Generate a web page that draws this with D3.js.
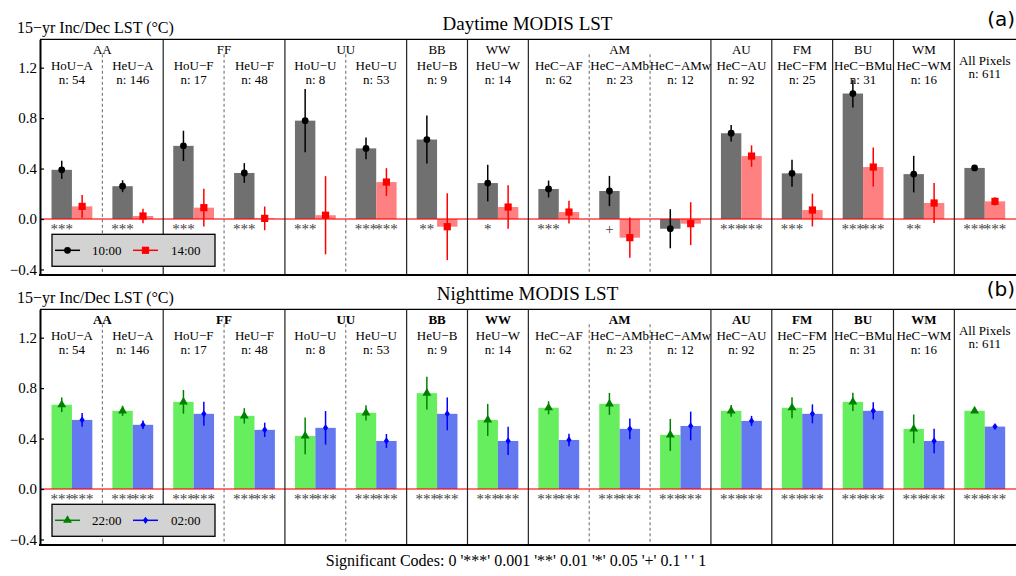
<!DOCTYPE html>
<html><head><meta charset="utf-8">
<script src="https://cdn.jsdelivr.net/npm/d3@7"></script>
<style>body{margin:0;background:#fff}svg{display:block}</style>
</head><body>
<script>
// ---- data ----
const categories = ["HoU\u2212A","HeU\u2212A","HoU\u2212F","HeU\u2212F","HoU\u2212U","HeU\u2212U","HeU\u2212B","HeU\u2212W","HeC\u2212AF","HeC\u2212AMb","HeC\u2212AMw","HeC\u2212AU","HeC\u2212FM","HeC\u2212BMu","HeC\u2212WM","All Pixels"];
const counts = [54,146,17,48,8,53,9,14,62,23,12,92,25,31,16,611];
const groupNames = ["AA","FF","UU","BB","WW","AM","AU","FM","BU","WM",""];
const groupSizes = [2,2,2,1,1,3,1,1,1,1,1];

const day10 = [0.39,0.26,0.58,0.365,0.78,0.56,0.63,0.285,0.238,0.222,-0.077,0.68,0.362,0.995,0.356,0.405];
const day10Err = [0.072,0.047,0.12,0.078,0.25,0.087,0.19,0.145,0.067,0.12,0.155,0.065,0.107,0.11,0.145,0.018];
const day14 = [0.10,0.024,0.09,0.005,0.03,0.293,-0.061,0.095,0.055,-0.148,-0.037,0.499,0.071,0.412,0.127,0.14];
const day14Err = [0.09,0.058,0.15,0.094,0.31,0.11,0.265,0.173,0.09,0.16,0.17,0.085,0.13,0.155,0.158,0.033];

const night22 = [0.668,0.62,0.691,0.58,0.421,0.604,0.76,0.548,0.644,0.675,0.429,0.62,0.644,0.691,0.477,0.62];
const night22Err = [0.058,0.04,0.094,0.061,0.146,0.06,0.13,0.127,0.052,0.087,0.127,0.047,0.083,0.073,0.114,0.01];
const night02 = [0.548,0.509,0.596,0.469,0.485,0.381,0.596,0.381,0.389,0.477,0.5,0.54,0.596,0.62,0.381,0.495];
const night02Err = [0.054,0.034,0.095,0.057,0.133,0.055,0.13,0.112,0.05,0.083,0.114,0.04,0.075,0.068,0.097,0.01];

const sig10 = ["***","***","***","***","***","***","**","*","***","+","","***","***","***","**","***"];
const sig14 = ["","","","","","***","","","","","","***","","***","","***"];
const sig22 = ["***","***","***","***","***","***","***","***","***","***","***","***","***","***","***","***"];
const sig02 = ["***","***","***","***","***","***","***","***","***","***","***","***","***","***","***","***"];

const yTicks = [-0.4,0.0,0.4,0.8,1.2];
const seriesLabelsDay = ["10:00","14:00"];
const seriesLabelsNight = ["22:00","02:00"];

// ---- layout ----
const W = 1016, H = 576;
const SERIF = "'Liberation Serif','Times New Roman',serif";
const svg = d3.select("body").append("svg").attr("width",W).attr("height",H);

const x = d3.scaleLinear().domain([0, categories.length]).range([41.5, 1015.2]);
const y = d3.scaleLinear().domain([-0.44, 1.425]).range([274.5, 39.3]);
const slotW = x(1) - x(0);
const barW = 20.4;
const cx1 = i => x(i + 0.5) - barW/2;
const cx2 = i => x(i + 0.5) + barW/2;

// group boundaries
const groups = [];
{ let s = 0; groupNames.forEach((n,k)=>{ groups.push({name:n, start:s, end:s+groupSizes[k]}); s += groupSizes[k]; }); }

function marker(g, type, color, px, py, legend) {
  if (type === "circle") {
    g.append("circle").attr("cx",px).attr("cy",py).attr("r",3.4).attr("fill",color);
  } else if (type === "square") {
    g.append("rect").attr("x",px-3.6).attr("y",py-3.6).attr("width",7.2).attr("height",7.2).attr("fill",color);
  } else if (type === "triangle") {
    g.append("path").attr("d", d3.symbol(d3.symbolTriangle, 34)()).attr("transform",`translate(${px},${py})`).attr("fill",color);
  } else {
    g.append("path").attr("d", "M0,-3.6L2.6,0L0,3.6L-2.6,0Z").attr("transform",`translate(${px},${py})`).attr("fill",color);
  }
}

function panel(dy, opt) {
  const g = svg.append("g").attr("transform",`translate(0,${dy})`);
  const top = y.range()[1], bot = y.range()[0];

  // bars
  categories.forEach((c,i)=>{
    const v1 = opt.v1[i], v2 = opt.v2[i];
    g.append("rect").attr("x", cx1(i)-barW/2).attr("width", barW)
      .attr("y", y(Math.max(0,v1))).attr("height", Math.abs(y(v1)-y(0))).attr("fill", opt.barColors[0]);
    g.append("rect").attr("x", cx2(i)-barW/2).attr("width", barW)
      .attr("y", y(Math.max(0,v2))).attr("height", Math.abs(y(v2)-y(0))).attr("fill", opt.barColors[1]);
  });

  // zero line
  g.append("line").attr("x1",40).attr("x2",W).attr("y1",y(0)).attr("y2",y(0))
    .attr("stroke","red").attr("stroke-opacity",0.75).attr("stroke-width",1.5);

  // error bars + markers
  categories.forEach((c,i)=>{
    [[cx1(i),opt.v1[i],opt.e1[i],0],[cx2(i),opt.v2[i],opt.e2[i],1]].forEach(([px,v,e,k])=>{
      g.append("line").attr("x1",px).attr("x2",px).attr("y1",y(v-e)).attr("y2",y(v+e))
        .attr("stroke",opt.lineColors[k]).attr("stroke-width",1.5);
      marker(g, opt.markers[k], opt.lineColors[k], px, y(v));
    });
  });

  // significance
  categories.forEach((c,i)=>{
    [[cx1(i),opt.s1[i]],[cx2(i),opt.s2[i]]].forEach(([px,s])=>{
      if (!s) return;
      g.append("text").attr("x",px).attr("y", y(0)+15).attr("text-anchor","middle")
        .attr("font-family",SERIF).attr("font-size",15).attr("fill","#444").text(s);
    });
  });

  // separators
  groups.forEach((gr,k)=>{
    if (k>0) g.append("line").attr("x1",x(gr.start)).attr("x2",x(gr.start)).attr("y1",top).attr("y2",bot)
      .attr("stroke","#222").attr("stroke-width",1.2);
    for (let j=gr.start+1;j<gr.end;j++){
      g.append("line").attr("x1",x(j)).attr("x2",x(j)).attr("y1",top+15).attr("y2",bot)
        .attr("stroke","#666").attr("stroke-width",1).attr("stroke-dasharray","3,2.5");
    }
  });

  // labels
  groups.forEach(gr=>{
    if (gr.name) g.append("text").attr("x",(x(gr.start)+x(gr.end))/2).attr("y",top+15)
      .attr("text-anchor","middle").attr("font-family",SERIF).attr("font-size",13)
      .attr("font-weight",opt.boldGroups?"bold":"normal").text(gr.name);
  });
  categories.forEach((c,i)=>{
    const isAll = (i===categories.length-1);
    g.append("text").attr("x",x(i+0.5)).attr("y",top+(isAll?26:31)).attr("text-anchor","middle")
      .attr("font-family",SERIF).attr("font-size",13).text(c);
    g.append("text").attr("x",x(i+0.5)).attr("y",top+(isAll?39:44.3)).attr("text-anchor","middle")
      .attr("font-family",SERIF).attr("font-size",13).text("n: "+counts[i]);
  });

  // frame
  g.append("line").attr("x1",40).attr("x2",W).attr("y1",top).attr("y2",top).attr("stroke","#000").attr("stroke-width",1.3);

  // axes
  const ya = d3.axisLeft(y).tickValues(yTicks).tickSize(-4).tickSizeOuter(0).tickPadding(3)
    .tickFormat(d => d3.format(".1f")(d).replace("-","\u2212"));
  const yg = g.append("g").attr("transform","translate(40,0)").call(ya);
  yg.select(".domain").attr("stroke-width",2);
  yg.selectAll("text").attr("font-family",SERIF).attr("font-size",15).attr("fill","#000");
  yg.selectAll(".tick line").attr("stroke-width",1.2);

  const centers = [];
  categories.forEach((c,i)=>{ centers.push(cx1(i)); centers.push(cx2(i)); });
  const xa = d3.axisBottom(x).tickValues(centers).tickSize(-5).tickSizeOuter(0).tickFormat("");
  const xg = g.append("g").attr("transform",`translate(0,${bot})`).call(xa);
  xg.select(".domain").attr("stroke-width",2).attr("d",`M39,0.5H${W}`);
  xg.selectAll(".tick line").attr("stroke-width",1.2);

  // titles
  g.append("text").attr("x",17).attr("y",top-6).attr("font-family",SERIF).attr("font-size",16).text("15\u2212yr Inc/Dec LST (\u00B0C)");
  g.append("text").attr("x",(40+1015)/2).attr("y",top-9).attr("text-anchor","middle")
    .attr("font-family",SERIF).attr("font-size",19).text(opt.title);
  g.append("text").attr("x",1015).attr("y",top-13.5).attr("text-anchor","end")
    .attr("font-family","'DejaVu Sans',sans-serif").attr("font-size",20).text(opt.tag);

  // legend
  const lg = g.append("g");
  lg.append("rect").attr("x",52).attr("y",234.3).attr("width",163).attr("height",32)
    .attr("fill","#d3d3d3").attr("stroke","#000").attr("stroke-width",1.3);
  const ly = 250.3;
  [[55,80,92,0],[133,158,171,1]].forEach(([a,b,t,k])=>{
    lg.append("line").attr("x1",a).attr("x2",b).attr("y1",ly).attr("y2",ly).attr("stroke",opt.lineColors[k]).attr("stroke-width",1.5);
    marker(lg, opt.markers[k], opt.lineColors[k], (a+b)/2, ly);
    lg.append("text").attr("x",t).attr("y",ly+4.6).attr("font-family",SERIF).attr("font-size",13).text(opt.labels[k]);
  });
}

panel(0, {v1:day10,e1:day10Err,v2:day14,e2:day14Err,s1:sig10,s2:sig14,
  barColors:["#707070","#ff8080"], lineColors:["#000","#ff0000"], markers:["circle","square"],
  labels:seriesLabelsDay, title:"Daytime MODIS LST", tag:"(a)", boldGroups:false});
panel(270, {v1:night22,e1:night22Err,v2:night02,e2:night02Err,s1:sig22,s2:sig02,
  barColors:["#66ee5e","#6478f0"], lineColors:["#008000","#0000ff"], markers:["triangle","diamond"],
  labels:seriesLabelsNight, title:"Nighttime MODIS LST", tag:"(b)", boldGroups:true});

svg.append("text").attr("x",516).attr("y",566).attr("text-anchor","middle")
  .attr("font-family",SERIF).attr("font-size",16)
  .text("Significant Codes:  0 '***' 0.001 '**' 0.01 '*' 0.05 '+' 0.1 ' ' 1");
</script>
</body></html>
